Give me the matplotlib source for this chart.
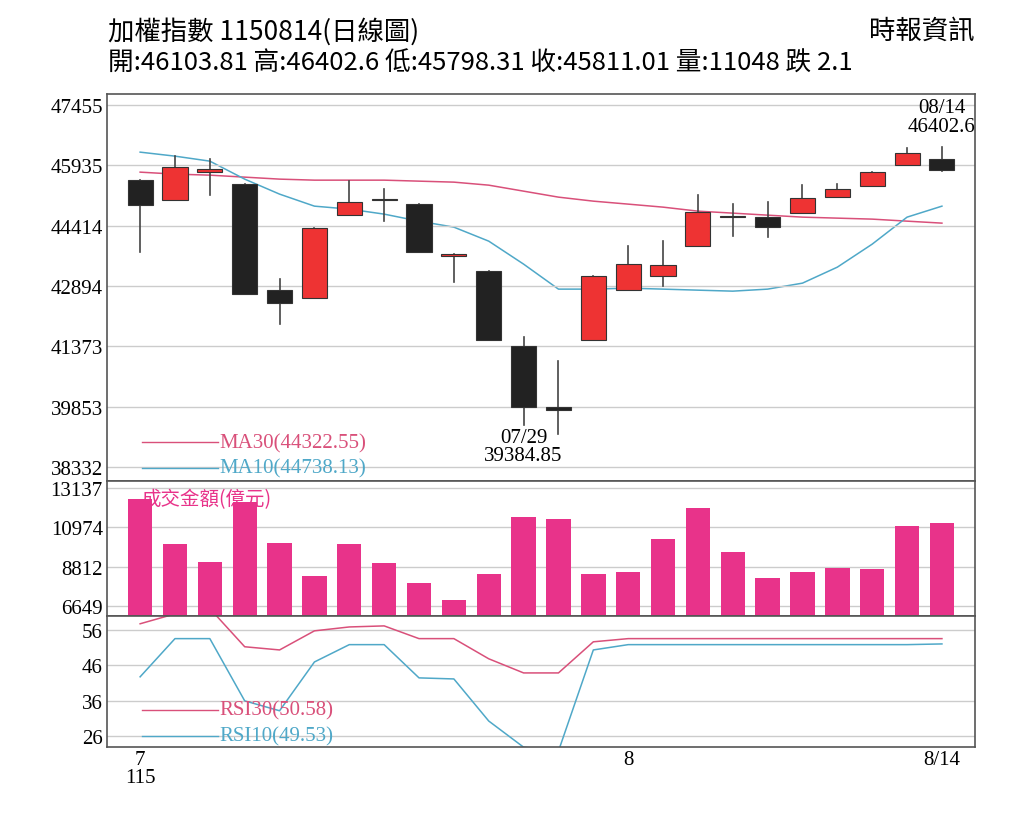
import numpy as np
import matplotlib
matplotlib.use("Agg")
from matplotlib import pyplot as plt
from matplotlib.patches import Rectangle

plt.rcParams['font.family'] = ['Noto Sans CJK TC', 'DejaVu Sans']

# 日K資料
opens  = [45565, 45060, 45766, 45464, 42792, 42591, 44682, 45060, 44960, 43649, 43271, 41381,
          39844, 41532, 42792, 43145, 43901, 44632, 44632, 44733, 45136, 45413, 45940, 46103.81]
closes = [44935, 45892, 45842, 42692, 42465, 44355, 45010, 45086, 43750, 43700, 41532, 39844,
          39768, 43145, 43448, 43422, 44758, 44657, 44380, 45111, 45338, 45766, 46250, 45811.01]
highs  = [45565, 46169, 46094, 45464, 43070, 44355, 45539, 45338, 44960, 43700, 43271, 41608,
          41003, 43145, 43901, 44027, 45186, 44960, 45010, 45438, 45464, 45766, 46380, 46402.6]
lows   = [43750, 45060, 45186, 42692, 41936, 42591, 44682, 44531, 43750, 42994, 41532, 39384.85,
          39164, 41532, 42792, 42893, 43901, 44153, 44128, 44733, 45136, 45413, 45940, 45798.31]
ma10 = [46270, 46169, 46043, 45590, 45212, 44909, 44834, 44708, 44531, 44380, 44027, 43448,
        42818, 42818, 42843, 42818, 42792, 42767, 42818, 42969, 43372, 43952, 44632, 44909]
ma30 = [45766, 45716, 45690, 45640, 45590, 45564, 45564, 45564, 45539, 45514, 45438, 45287,
        45136, 45035, 44960, 44884, 44783, 44733, 44682, 44632, 44607, 44582, 44531, 44481]
volume = [12534, 10059, 9069, 12369, 10114, 8299, 10059, 9014, 7914, 6979, 8409, 11544,
          11434, 8409, 8519, 10334, 12039, 9619, 8189, 8519, 8739, 8684, 11034, 11199]
rsi30 = [57.7, 60.5, 62.0, 51.2, 50.3, 55.7, 56.8, 57.1, 53.5, 53.5, 47.8, 43.8,
         43.8, 52.6, 53.5, 53.5, 53.5, 53.5, 53.5, 53.5, 53.5, 53.5, 53.5, 53.5]
rsi10 = [42.7, 53.5, 53.5, 35.9, 33.1, 46.9, 51.8, 51.8, 42.4, 42.1, 30.2, 22.8,
         21.7, 50.3, 51.8, 51.8, 51.8, 51.8, 51.8, 51.8, 51.8, 51.8, 51.8, 52.0]
price_ticks = [38332, 39853, 41373, 42894, 44414, 45935, 47455]
vol_ticks = [6649, 8812, 10974, 13137]
rsi_ticks = [26, 36, 46, 56]

RED = '#ee3333'
BLACK = '#222222'
PINK = '#e8338a'
MAPINK = '#d9507a'
BLUE = '#4fa8c8'
SERIF = ['Liberation Serif']

fig = plt.figure(figsize=(10.24, 8.2), dpi=100)
L, W = 0.1045, 0.8477
ax1 = fig.add_axes([L, 0.412, W, 0.472])
ax2 = fig.add_axes([L, 0.248, W, 0.164])
ax3 = fig.add_axes([L, 0.088, W, 0.160])
x = np.arange(len(opens))
for ax in (ax1, ax2, ax3):
    ax.set_xlim(-0.95, 23.95)
    for s in ax.spines.values():
        s.set_color('#555555')
        s.set_linewidth(1.2)
    ax.tick_params(axis='y', length=0, labelsize=15, pad=3)
    ax.tick_params(axis='x', length=0)

# K線
for i in x:
    o, c, h, l = opens[i], closes[i], highs[i], lows[i]
    col = RED if c >= o else BLACK
    ax1.plot([i, i], [l, h], color='#444444', lw=1.2, zorder=2)
    bot, ht = min(o, c), max(abs(c - o), 40)
    ax1.add_patch(Rectangle((i - 0.36, bot), 0.72, ht, facecolor=col,
                            edgecolor='#333333', lw=0.8, zorder=3))
ax1.plot(x, ma30, color=MAPINK, lw=1.1, zorder=1)
ax1.plot(x, ma10, color=BLUE, lw=1.1, zorder=1)
ax1.set_ylim(37979, 47732)
ax1.set_yticks(price_ticks)
ax1.grid(axis='y', color='#cccccc', lw=1)
ax1.set_xticks([])
ax1.text(23, 46402.6 + 280, '08/14\n46402.6', ha='center', va='bottom', fontsize=15,
         family=SERIF, linespacing=0.95)
ax1.text(11, 39384.85 - 60, '07/29\n39384.85', ha='center', va='top', fontsize=15,
         family=SERIF, linespacing=0.95)
ax1.plot([0.04, 0.128], [0.10, 0.10], transform=ax1.transAxes, color=MAPINK, lw=1)
ax1.text(0.13, 0.10, 'MA30(44322.55)', transform=ax1.transAxes, color=MAPINK, va='center',
         fontsize=15, family=SERIF)
ax1.plot([0.04, 0.128], [0.035, 0.035], transform=ax1.transAxes, color=BLUE, lw=1)
ax1.text(0.13, 0.035, 'MA10(44738.13)', transform=ax1.transAxes, color=BLUE, va='center',
         fontsize=15, family=SERIF)

# 成交金額
ax2.bar(x, volume, width=0.7, color=PINK)
ax2.set_ylim(6100, 13522)
ax2.set_yticks(vol_ticks)
ax2.grid(axis='y', color='#cccccc', lw=1)
ax2.set_axisbelow(True)
ax2.set_xticks([])
ax2.text(0.04, 0.95, '成交金額(億元)', transform=ax2.transAxes, color=PINK, va='top', fontsize=14)

# RSI
ax3.plot(x, rsi30, color=MAPINK, lw=1.1)
ax3.plot(x, rsi10, color=BLUE, lw=1.1)
ax3.set_ylim(22.9, 60)
ax3.set_yticks(rsi_ticks)
ax3.grid(axis='y', color='#cccccc', lw=1)
ax3.plot([0.04, 0.128], [0.28, 0.28], transform=ax3.transAxes, color=MAPINK, lw=1)
ax3.text(0.13, 0.28, 'RSI30(50.58)', transform=ax3.transAxes, color=MAPINK, va='center',
         fontsize=15, family=SERIF)
ax3.plot([0.04, 0.128], [0.08, 0.08], transform=ax3.transAxes, color=BLUE, lw=1)
ax3.text(0.13, 0.08, 'RSI10(49.53)', transform=ax3.transAxes, color=BLUE, va='center',
         fontsize=15, family=SERIF)
ax3.set_xticks([0, 14, 23])
ax3.set_xticklabels(['7\n115', '8', '8/14'], fontsize=15, family=SERIF, linespacing=0.95)
ax3.tick_params(axis='x', pad=2)

for ax in (ax1, ax2, ax3):
    for t in ax.get_yticklabels():
        t.set_family(SERIF)

fig.text(0.105, 0.978, '加權指數 1150814(日線圖)', fontsize=19, va='top')
fig.text(0.952, 0.978, '時報資訊', fontsize=19, va='top', ha='right')
fig.text(0.105, 0.938, '開:46103.81 高:46402.6 低:45798.31 收:45811.01 量:11048 跌 2.1',
         fontsize=18.5, va='top')

fig.savefig('out.png', dpi=100, facecolor='white')
